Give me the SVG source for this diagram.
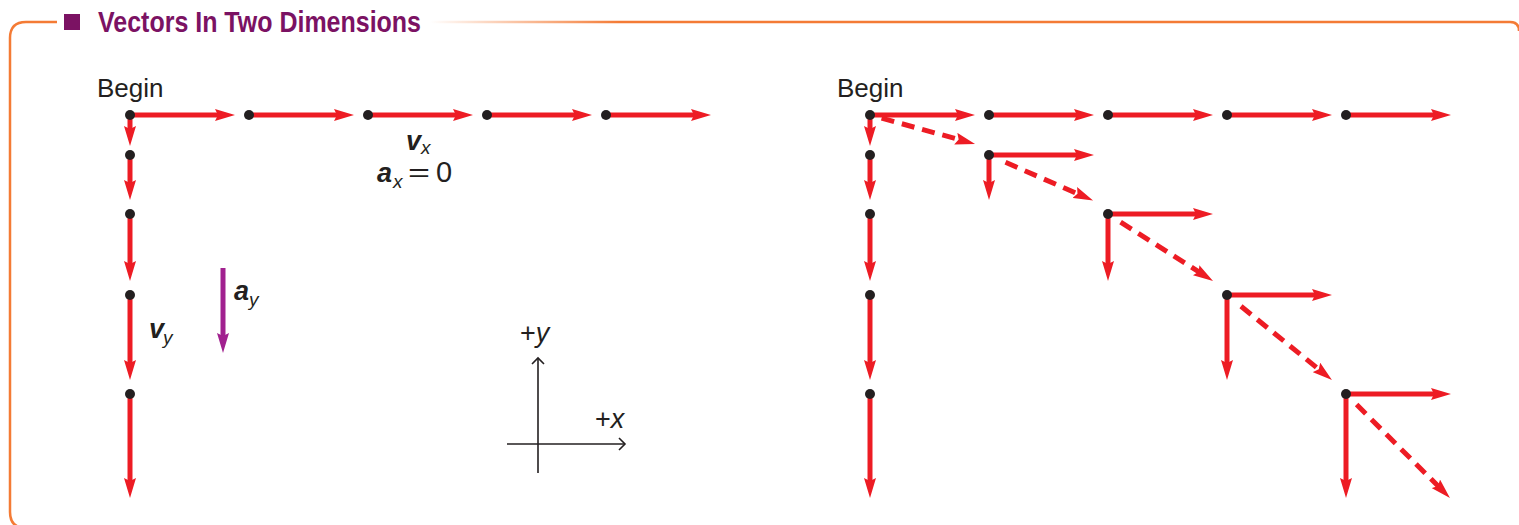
<svg xmlns="http://www.w3.org/2000/svg" width="1519" height="525" viewBox="0 0 1519 525">
<defs>
<linearGradient id="fade" x1="430" y1="0" x2="620" y2="0" gradientUnits="userSpaceOnUse">
<stop offset="0" stop-color="#f47b35" stop-opacity="0"/>
<stop offset="1" stop-color="#f47b35" stop-opacity="1"/>
</linearGradient>
<marker id="hr" markerUnits="userSpaceOnUse" markerWidth="20" markerHeight="12" viewBox="0 0 20 12" refX="10" refY="6" orient="auto">
<path d="M0,0 L20,6 L0,12 L3,6 z" fill="#ed1c24"/>
</marker>
<marker id="hp" markerUnits="userSpaceOnUse" markerWidth="20" markerHeight="12" viewBox="0 0 20 12" refX="10" refY="6" orient="auto">
<path d="M0,0 L20,6 L0,12 L3,6 z" fill="#a1218f"/>
</marker>
</defs>
<style>
.frame{fill:none;stroke:#f47b35;stroke-width:2.5}
.v{stroke:#ed1c24;stroke-width:5;fill:none;marker-end:url(#hr)}
.d{stroke:#ed1c24;stroke-width:5;fill:none;stroke-dasharray:13 8;marker-end:url(#hr)}
.dot{fill:#231f20}
.lbl{font-family:"Liberation Sans",Arial,sans-serif;fill:#231f20}
.bi{font-weight:bold;font-style:italic;font-size:27px}
.sub{font-style:italic;font-size:19px}
.ax{stroke:#231f20;stroke-width:1.6;fill:none}
</style>
<g id="frame">
<path class="frame" d="M57,22 H26 Q10,22 10,38 V512 Q10,528 26,528"/>
<path d="M430,22 H1510 Q1519,22 1519,31" fill="none" stroke="url(#fade)" stroke-width="2.5"/>
<rect x="64" y="14" width="16" height="16" fill="#7b1263"/>
<text x="98" y="32" font-family="'Liberation Sans',Arial,sans-serif" font-weight="bold" font-size="29" fill="#7b1263" textLength="323" lengthAdjust="spacingAndGlyphs">Vectors In Two Dimensions</text>
</g>
<g id="connectors">
<line class="v" x1="130" y1="115" x2="225" y2="115"/>
<line class="v" x1="249" y1="115" x2="344" y2="115"/>
<line class="v" x1="368" y1="115" x2="463" y2="115"/>
<line class="v" x1="487" y1="115" x2="582" y2="115"/>
<line class="v" x1="606" y1="115" x2="701" y2="115"/>
<line class="v" x1="130" y1="115" x2="130" y2="136"/>
<line class="v" x1="130" y1="155" x2="130" y2="190"/>
<line class="v" x1="130" y1="214" x2="130" y2="271"/>
<line class="v" x1="130" y1="295" x2="130" y2="370"/>
<line class="v" x1="130" y1="394" x2="130" y2="488"/>
<line x1="223" y1="268" x2="223" y2="343" stroke="#a1218f" stroke-width="5" marker-end="url(#hp)"/>
<line class="v" x1="870" y1="115" x2="965" y2="115"/>
<line class="v" x1="989" y1="115" x2="1084" y2="115"/>
<line class="v" x1="1108" y1="115" x2="1203" y2="115"/>
<line class="v" x1="1227" y1="115" x2="1322" y2="115"/>
<line class="v" x1="1346" y1="115" x2="1441" y2="115"/>
<line class="v" x1="870" y1="115" x2="870" y2="136"/>
<line class="v" x1="870" y1="155" x2="870" y2="190"/>
<line class="v" x1="870" y1="214" x2="870" y2="271"/>
<line class="v" x1="870" y1="295" x2="870" y2="370"/>
<line class="v" x1="870" y1="394" x2="870" y2="488"/>
<line class="v" x1="989" y1="155" x2="1084" y2="155"/>
<line class="v" x1="989" y1="155" x2="989" y2="190"/>
<line class="v" x1="1108" y1="214" x2="1203" y2="214"/>
<line class="v" x1="1108" y1="214" x2="1108" y2="271"/>
<line class="v" x1="1227" y1="295" x2="1322" y2="295"/>
<line class="v" x1="1227" y1="295" x2="1227" y2="370"/>
<line class="v" x1="1346" y1="394" x2="1441" y2="394"/>
<line class="v" x1="1346" y1="394" x2="1346" y2="488"/>
<line class="d" x1="881.6" y1="118.2" x2="965.4" y2="141.3"/>
<line class="d" x1="1005.5" y1="162.3" x2="1083.9" y2="196.5"/>
<line class="d" x1="1120.6" y1="222.1" x2="1204.6" y2="275.6"/>
<line class="d" x1="1241" y1="306.3" x2="1324.2" y2="373.7"/>
<line class="d" x1="1356.6" y1="404.6" x2="1442.9" y2="490.9"/>
<line class="ax" x1="538" y1="473" x2="538" y2="358"/>
<polyline class="ax" points="532,364 538,358 544,364"/>
<line class="ax" x1="507" y1="444" x2="625" y2="444"/>
<polyline class="ax" points="619,438 625,444 619,450"/>
</g>
<g id="dots-left">
<circle class="dot" cx="130" cy="115" r="5"/>
<circle class="dot" cx="249" cy="115" r="5"/>
<circle class="dot" cx="368" cy="115" r="5"/>
<circle class="dot" cx="487" cy="115" r="5"/>
<circle class="dot" cx="606" cy="115" r="5"/>
<circle class="dot" cx="130" cy="155" r="5"/>
<circle class="dot" cx="130" cy="214" r="5"/>
<circle class="dot" cx="130" cy="295" r="5"/>
<circle class="dot" cx="130" cy="394" r="5"/>
</g>
<g id="dots-right">
<circle class="dot" cx="870" cy="115" r="5"/>
<circle class="dot" cx="989" cy="115" r="5"/>
<circle class="dot" cx="1108" cy="115" r="5"/>
<circle class="dot" cx="1227" cy="115" r="5"/>
<circle class="dot" cx="1346" cy="115" r="5"/>
<circle class="dot" cx="870" cy="155" r="5"/>
<circle class="dot" cx="870" cy="214" r="5"/>
<circle class="dot" cx="870" cy="295" r="5"/>
<circle class="dot" cx="870" cy="394" r="5"/>
<circle class="dot" cx="989" cy="155" r="5"/>
<circle class="dot" cx="1108" cy="214" r="5"/>
<circle class="dot" cx="1227" cy="295" r="5"/>
<circle class="dot" cx="1346" cy="394" r="5"/>
</g>
<g id="labels">
<text class="lbl" x="97" y="97" font-size="26">Begin</text>
<text class="lbl" x="837" y="97" font-size="26">Begin</text>
<text class="lbl bi" x="406" y="150">v</text>
<text class="lbl sub" x="421" y="154">x</text>
<text class="lbl bi" x="377" y="182">a</text>
<text class="lbl sub" x="393" y="188">x</text>
<text class="lbl" x="408" y="181" font-size="26" textLength="22" lengthAdjust="spacingAndGlyphs">=</text>
<text class="lbl" x="436" y="182" font-size="29">0</text>
<text class="lbl bi" x="149" y="338">v</text>
<text class="lbl sub" x="163" y="344">y</text>
<text class="lbl bi" x="234" y="300">a</text>
<text class="lbl sub" x="249" y="306">y</text>
<text class="lbl" x="520" y="342" font-size="27">+<tspan font-style="italic">y</tspan></text>
<text class="lbl" x="595" y="428" font-size="27">+<tspan font-style="italic">x</tspan></text>
</g>
</svg>
